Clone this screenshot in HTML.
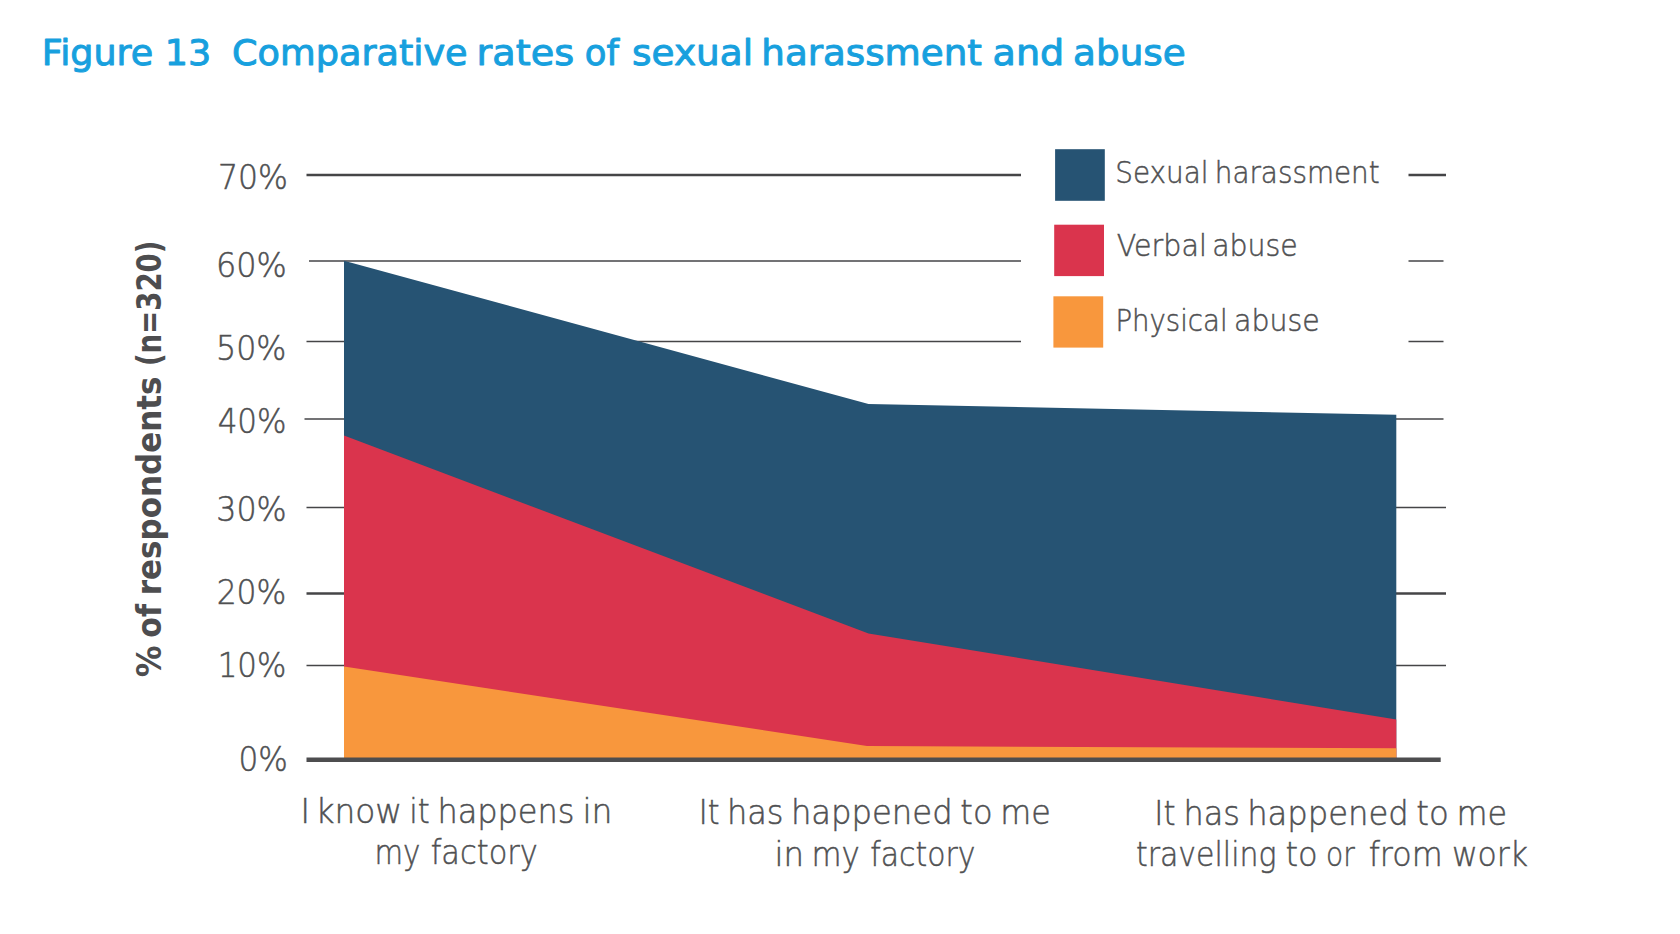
<!DOCTYPE html>
<html lang="en">
<head>
<meta charset="utf-8">
<title>Figure 13 Comparative rates of sexual harassment and abuse</title>
<style>
  html, body { margin: 0; padding: 0; background: #ffffff; }
  body { width: 1680px; height: 934px; overflow: hidden; }
  svg { display: block; }
  text { font-family: "Liberation Sans", sans-serif; }
  .title text { font-family: "DejaVu Sans", "Liberation Sans", sans-serif; font-size: 36px; fill: #17a0de; stroke: #17a0de; stroke-width: 0.95; stroke-linejoin: round; }
  .ylab text, .leg text, .xlab text { font-family: "DejaVu Sans", "Liberation Sans", sans-serif; font-weight: 200; fill: #4f5052; stroke: #4f5052; stroke-width: 0.5; }
  .ylab { font-size: 33px; }
  .leg { font-size: 30.5px; }
  .xlab { font-size: 34px; }
  .ytitle text { font-family: "DejaVu Sans Condensed", "DejaVu Sans", "Liberation Sans", sans-serif; font-weight: bold; font-size: 33.5px; fill: #4d4d4f; }
  .grid line { stroke: #454547; stroke-width: 1.6; }
</style>
</head>
<body>
<svg width="1680" height="934" viewBox="0 0 1680 934">
  <rect x="0" y="0" width="1680" height="934" fill="#ffffff"/>

  <!-- Gridlines -->
  <g class="grid">
    <line x1="306.5" y1="175" x2="1021" y2="175" style="stroke-width:2.3"/>
    <line x1="1408.5" y1="175" x2="1446" y2="175" style="stroke-width:2.3"/>
    <line x1="309" y1="261" x2="1021" y2="261"/>
    <line x1="1408.5" y1="261" x2="1443.5" y2="261"/>
    <line x1="306.5" y1="341.5" x2="1021" y2="341.5"/>
    <line x1="1408.5" y1="341.5" x2="1443.5" y2="341.5"/>
    <line x1="304.5" y1="419" x2="1443.5" y2="419"/>
    <line x1="306.5" y1="507.5" x2="1446" y2="507.5"/>
    <line x1="306.5" y1="593.5" x2="1446" y2="593.5" style="stroke-width:2.3"/>
    <line x1="306.5" y1="665.5" x2="1446" y2="665.5"/>
  </g>

  <!-- Stacked areas -->
  <polygon fill="#265373" points="344,260.8 868.5,404 1396.3,414.8 1396.3,758 344,758"/>
  <polygon fill="#da344d" points="344,435.5 868.5,633.5 1396.3,719.5 1396.3,758 344,758"/>
  <polygon fill="#f8973d" points="344,666.5 867,746 1396.3,748.3 1396.3,758 344,758"/>

  <!-- Baseline axis -->
  <line x1="306.5" y1="759.8" x2="1440.7" y2="759.8" stroke="#4d4d4f" stroke-width="4.5"/>

  <!-- Legend swatches -->
  <rect x="1055.1" y="149.2" width="49.7" height="51.6" fill="#265373"/>
  <rect x="1054.2" y="224.7" width="49.8" height="51.4" fill="#da344d"/>
  <rect x="1053.4" y="296.3" width="49.8" height="51.3" fill="#f8973d"/>

  <!-- Title -->
  <g class="title">
    <text x="41.82" y="65.2" textLength="169.47" lengthAdjust="spacingAndGlyphs">Figure 13</text>
    <text x="231.99" y="65.2" textLength="235.68" lengthAdjust="spacingAndGlyphs">Comparative</text>
    <text x="476.63" y="65.2" textLength="97.67" lengthAdjust="spacingAndGlyphs">rates</text>
    <text x="584.82" y="65.2" textLength="34.15" lengthAdjust="spacingAndGlyphs">of</text>
    <text x="632.11" y="65.2" textLength="121.06" lengthAdjust="spacingAndGlyphs">sexual</text>
    <text x="761.35" y="65.2" textLength="220.61" lengthAdjust="spacingAndGlyphs">harassment</text>
    <text x="992.54" y="65.2" textLength="71.70" lengthAdjust="spacingAndGlyphs">and</text>
    <text x="1073.10" y="65.2" textLength="112.63" lengthAdjust="spacingAndGlyphs">abuse</text>
  </g>

  <!-- Y axis labels -->
  <g class="ylab">
    <text x="218.10" y="189.0" textLength="69.92" lengthAdjust="spacingAndGlyphs">70%</text>
    <text x="215.90" y="277.0" textLength="70.77" lengthAdjust="spacingAndGlyphs">60%</text>
    <text x="216.06" y="360.0" textLength="70.27" lengthAdjust="spacingAndGlyphs">50%</text>
    <text x="217.64" y="433.0" textLength="68.95" lengthAdjust="spacingAndGlyphs">40%</text>
    <text x="216.32" y="521.0" textLength="70.41" lengthAdjust="spacingAndGlyphs">30%</text>
    <text x="216.66" y="604.0" textLength="69.64" lengthAdjust="spacingAndGlyphs">20%</text>
    <text x="217.70" y="676.5" textLength="68.58" lengthAdjust="spacingAndGlyphs">10%</text>
    <text x="238.55" y="771.0" textLength="49.33" lengthAdjust="spacingAndGlyphs">0%</text>
  </g>

  <!-- Legend labels -->
  <g class="leg">
    <text x="1115.30" y="183.0" textLength="93.22" lengthAdjust="spacingAndGlyphs">Sexual</text>
    <text x="1214.76" y="183.0" textLength="164.89" lengthAdjust="spacingAndGlyphs">harassment</text>
    <text x="1116.75" y="256.0" textLength="90.05" lengthAdjust="spacingAndGlyphs">Verbal</text>
    <text x="1212.22" y="256.0" textLength="85.59" lengthAdjust="spacingAndGlyphs">abuse</text>
    <text x="1115.51" y="330.5" textLength="112.04" lengthAdjust="spacingAndGlyphs">Physical</text>
    <text x="1234.10" y="330.5" textLength="85.69" lengthAdjust="spacingAndGlyphs">abuse</text>
  </g>

  <!-- X axis labels -->
  <g class="xlab">
    <text x="300.38" y="822.6" textLength="9.43" lengthAdjust="spacingAndGlyphs">I</text>
    <text x="315.46" y="822.6" textLength="86.59" lengthAdjust="spacingAndGlyphs">know</text>
    <text x="409.26" y="822.6" textLength="20.50" lengthAdjust="spacingAndGlyphs">it</text>
    <text x="437.46" y="822.6" textLength="136.99" lengthAdjust="spacingAndGlyphs">happens</text>
    <text x="582.42" y="822.6" textLength="30.06" lengthAdjust="spacingAndGlyphs">in</text>
    <text x="374.48" y="864.0" textLength="45.92" lengthAdjust="spacingAndGlyphs">my</text>
    <text x="430.68" y="864.0" textLength="107.05" lengthAdjust="spacingAndGlyphs">factory</text>
    <text x="698.77" y="824.2" textLength="20.65" lengthAdjust="spacingAndGlyphs">It</text>
    <text x="727.01" y="824.2" textLength="56.52" lengthAdjust="spacingAndGlyphs">has</text>
    <text x="790.88" y="824.2" textLength="161.73" lengthAdjust="spacingAndGlyphs">happened</text>
    <text x="960.36" y="824.2" textLength="32.21" lengthAdjust="spacingAndGlyphs">to</text>
    <text x="1000.23" y="824.2" textLength="50.53" lengthAdjust="spacingAndGlyphs">me</text>
    <text x="774.53" y="865.7" textLength="29.51" lengthAdjust="spacingAndGlyphs">in</text>
    <text x="811.51" y="865.7" textLength="48.31" lengthAdjust="spacingAndGlyphs">my</text>
    <text x="870.31" y="865.7" textLength="105.11" lengthAdjust="spacingAndGlyphs">factory</text>
    <text x="1154.37" y="824.8" textLength="21.13" lengthAdjust="spacingAndGlyphs">It</text>
    <text x="1183.54" y="824.8" textLength="56.40" lengthAdjust="spacingAndGlyphs">has</text>
    <text x="1247.18" y="824.8" textLength="161.56" lengthAdjust="spacingAndGlyphs">happened</text>
    <text x="1416.23" y="824.8" textLength="32.52" lengthAdjust="spacingAndGlyphs">to</text>
    <text x="1456.48" y="824.8" textLength="50.59" lengthAdjust="spacingAndGlyphs">me</text>
    <text x="1135.91" y="865.7" textLength="140.53" lengthAdjust="spacingAndGlyphs">travelling</text>
    <text x="1285.54" y="865.7" textLength="32.17" lengthAdjust="spacingAndGlyphs">to</text>
    <text x="1326.02" y="865.7" textLength="28.69" lengthAdjust="spacingAndGlyphs">or</text>
    <text x="1368.66" y="865.7" textLength="73.93" lengthAdjust="spacingAndGlyphs">from</text>
    <text x="1451.88" y="865.7" textLength="76.16" lengthAdjust="spacingAndGlyphs">work</text>
  </g>

  <!-- Y axis title -->
  <g class="ytitle" transform="translate(161.3,676.3) rotate(-90)">
    <text x="-0.97" y="0.0" textLength="31.84" lengthAdjust="spacingAndGlyphs">%</text>
    <text x="38.58" y="0.0" textLength="33.65" lengthAdjust="spacingAndGlyphs">of</text>
    <text x="81.09" y="0.0" textLength="218.74" lengthAdjust="spacingAndGlyphs">respondents</text>
    <text x="310.20" y="0.0" textLength="125.49" lengthAdjust="spacingAndGlyphs">(n=320)</text>
  </g>
</svg>
</body>
</html>
